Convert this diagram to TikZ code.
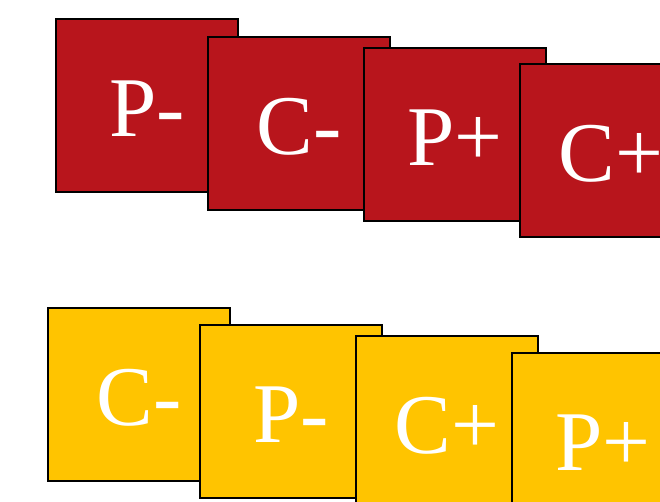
\documentclass[tikz,border=0pt]{standalone}
\usepackage{fontspec}
\setmainfont{Liberation Serif}
\newfontfamily\cardfont{Liberation Serif}
\definecolor{cardred}{HTML}{B8151C}
\definecolor{cardyellow}{HTML}{FFC400}
\begin{document}
\begin{tikzpicture}[x=1pt,y=-1pt,
  card/.style={draw=black,line width=1.8pt,minimum width=182pt,minimum height=173pt,inner sep=0pt,anchor=north west},
  redcard/.style={card,fill=cardred},
  yelcard/.style={card,fill=cardyellow},
  cardtext/.style={text=white,font=\cardfont\fontsize{85}{85}\selectfont,inner sep=0pt,yshift=-3.5pt}]
\path[use as bounding box] (0,0) rectangle (660,501);
\begin{scope}
\clip (0,0) rectangle (660,501);
\node[redcard] (r1) at (55,18) {};
\node[cardtext] (t1) at (r1.center) {P-};
\node[redcard] (r2) at (207,36) {};
\node[cardtext] (t2) at (r2.center) {C-};
\node[redcard] (r3) at (363,47) {};
\node[cardtext] (t3) at (r3.center) {P+};
\node[redcard] (r4) at (519,63) {};
\node[cardtext] (t4) at (r4.center) {C+};
\node[yelcard] (y1) at (47,307) {};
\node[cardtext] (u1) at (y1.center) {C-};
\node[yelcard] (y2) at (199,324) {};
\node[cardtext] (u2) at (y2.center) {P-};
\node[yelcard] (y3) at (355,335) {};
\node[cardtext] (u3) at (y3.center) {C+};
\node[yelcard] (y4) at (511,352) {};
\node[cardtext] (u4) at (y4.center) {P+};
\end{scope}
\end{tikzpicture}
\end{document}
